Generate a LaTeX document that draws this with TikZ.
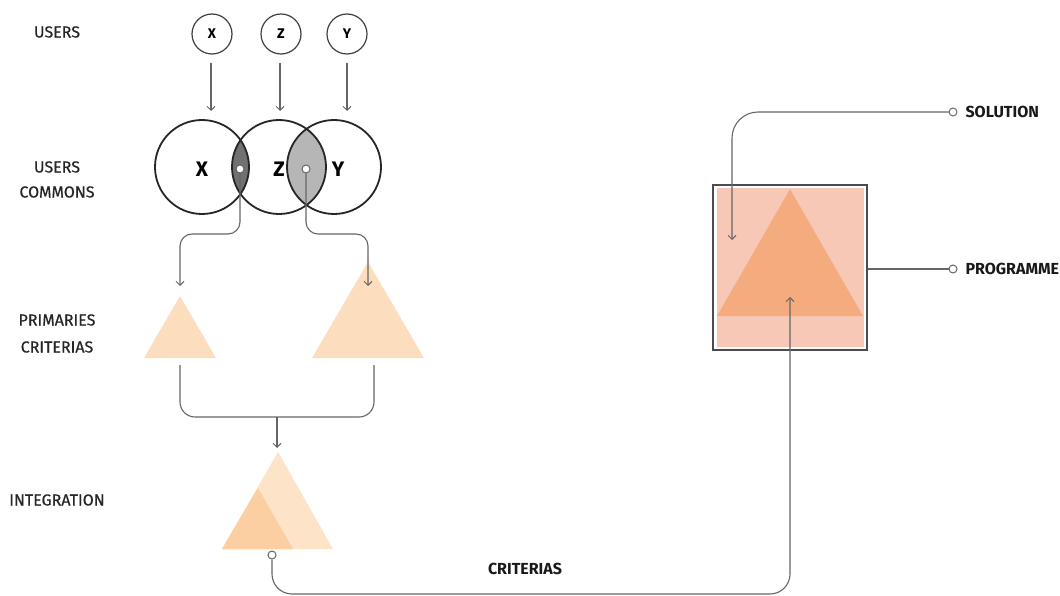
\documentclass[tikz,border=0pt]{standalone}
\usepackage{fontspec}
\setmainfont{Fira Sans}
\newfontfamily\medfont{Fira Sans}[FakeBold=0.5]
\usetikzlibrary{arrows.meta}
\definecolor{conngray}{HTML}{666666}
\definecolor{lensdark}{HTML}{717171}
\definecolor{lenslight}{HTML}{B6B6B6}
\definecolor{peach}{HTML}{FCDEBE}
\definecolor{peachlight}{HTML}{FDE3C8}
\definecolor{peachdark}{HTML}{FBCFA1}
\definecolor{boxpink}{HTML}{F8C8B7}
\definecolor{boxorange}{HTML}{F4AC7F}
\begin{document}
\begin{tikzpicture}[x=1pt,y=-1pt,
  cline/.style={draw=conngray, line width=1.1pt},
  carrow/.style={cline, -{Straight Barb[length=4pt,width=8pt,line width=1pt]}},
  lbl/.style={font=\medfont\fontsize{16}{18}\selectfont, text=black!85},
  rlbl/.style={font=\fontsize{16}{18}\selectfont\bfseries, text=black!90, anchor=west},
  enddot/.style={circle, draw=conngray, fill=white, line width=1pt, inner sep=0pt, minimum size=8pt},
  ucirc/.style={circle, draw=black!75, line width=1.2pt, minimum size=40pt, inner sep=0pt, font=\fontsize{14}{15}\selectfont\bfseries},
  bcirc/.style={circle, draw=black!85, line width=1.8pt, minimum size=94pt, inner sep=0pt},
  bigtxt/.style={font=\fontsize{21}{22}\selectfont\bfseries},
]
\useasboundingbox (0,0) rectangle (1060,596);
\fill[white] (0,0) rectangle (1060,596);

% ---------- left labels ----------
\node[lbl] (lusers) at (57,32) {USERS};
\node[lbl] (lusers2) at (57,167) {USERS};
\node[lbl] (lcommons) at (57,192) {COMMONS};
\node[lbl] (lprim) at (57,320) {PRIMARIES};
\node[lbl] (lcrit) at (57,347) {CRITERIAS};
\node[lbl] (linteg) at (57,500) {INTEGRATION};

% ---------- users ----------
\node[ucirc] (ux) at (212,34) {X};
\node[ucirc] (uz) at (281,34) {Z};
\node[ucirc] (uy) at (347,34) {Y};
\coordinate (ax) at (211,111);
\coordinate (az) at (280,111);
\coordinate (ay) at (347,111);
\draw[carrow, shorten <=8pt] (ux.south -| ax) -- (ax);
\draw[carrow, shorten <=8pt] (uz.south -| az) -- (az);
\draw[carrow, shorten <=8pt] (uy.south -| ay) -- (ay);

% ---------- users commons ----------
\begin{scope}
  \clip (202,167) circle[radius=47];
  \fill[lensdark] (279,167) circle[radius=47];
\end{scope}
\begin{scope}
  \clip (279,167) circle[radius=47];
  \fill[lenslight] (334,167) circle[radius=47];
\end{scope}
\node[bcirc] (cx) at (202,167) {};
\node[bcirc] (cz) at (279,167) {};
\node[bcirc] (cy) at (334,167) {};
\node[bigtxt] (tx) at (202,169) {X};
\node[bigtxt] (tz) at (279,169) {Z};
\node[bigtxt] (ty) at (338,169) {Y};

% ---------- primaries criterias ----------
\fill[peach] (144,358) -- (180,296) -- (216,358) -- cycle;
\fill[peach] (312,358) -- (368,262) -- (424,358) -- cycle;
\coordinate (p1top) at (180,286);
\coordinate (p2top) at (368,286);
\coordinate (p1bot) at (180,365);
\coordinate (p2bot) at (374,365);

\node[enddot] (dxz) at (240,169) {};
\node[enddot] (dzy) at (306,169) {};
\draw[carrow, rounded corners=12pt] (dxz.south) -- (240,234) -- (180,234) -- (p1top);
\draw[carrow, rounded corners=12pt] (dzy.south) -- (306,234) -- (368,234) -- (p2top);

% ---------- integration ----------
\coordinate (merge) at (277,417);
\coordinate (itop) at (277,448);
\draw[cline, rounded corners=15pt] (p1bot) -- (180,417) -- (374,417) -- (p2bot);
\draw[carrow] (merge) -- (itop);
\fill[peachlight] (222,549) -- (278,452) -- (333,549) -- cycle;
\fill[peachdark] (222,549) -- (258,488) -- (293,549) -- cycle;

% ---------- programme box ----------
\node[draw=black!70, line width=1.4pt, fill=white, minimum width=154pt, minimum height=165pt, inner sep=0pt] (box) at (790,267.5) {};
\fill[boxpink] (717,188) rectangle (864,347);
\fill[boxorange] (717,316) -- (790,189) -- (863,316) -- cycle;

% ---------- criterias connector ----------
\node[enddot] (idot) at (272,555) {};
\coordinate (btip) at (790,297);
\draw[carrow, rounded corners=20pt] (idot.south) -- (272,594) -- (790,594) -- (btip);
\node[rlbl, anchor=center] (lcrit2) at (525,569) {CRITERIAS};

% ---------- solution / programme ----------
\node[enddot] (sdot) at (953,112) {};
\node[rlbl] (lsol) at (962,112) {SOLUTION};
\coordinate (stip) at (732,240);
\draw[carrow, rounded corners=26pt] (sdot.west) -- (732,112) -- (stip);

\node[enddot] (pdot) at (953,269) {};
\node[rlbl] (lprog) at (962,269) {PROGRAMME};
\draw[cline] (box.east |- pdot) -- (pdot.west);
\end{tikzpicture}
\end{document}
